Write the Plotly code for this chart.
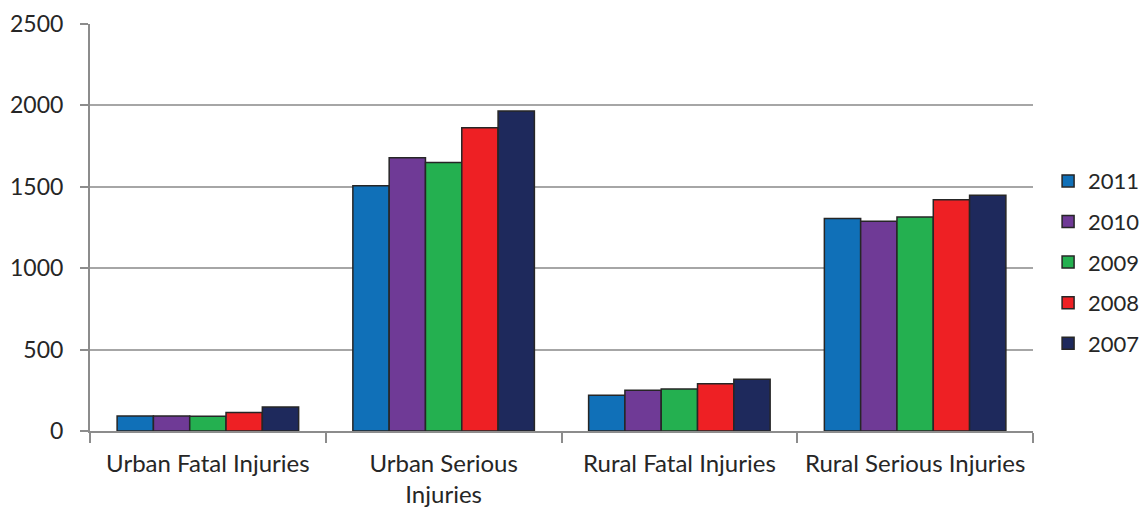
import plotly.graph_objects as go

categories = ["Urban Fatal Injuries", "Urban Serious<br>Injuries", "Rural Fatal Injuries", "Rural Serious Injuries"]
years = ["2011", "2010", "2009", "2008", "2007"]
v2011 = [92, 1507, 219, 1306]
v2010 = [92, 1679, 250, 1288]
v2009 = [90, 1650, 258, 1314]
v2008 = [113, 1863, 291, 1421]
v2007 = [147, 1966, 318, 1448]
colors = ["#1070b8", "#6f3a96", "#24b050", "#ee2024", "#1e295c"]

series = [v2011, v2010, v2009, v2008, v2007]
fig = go.Figure()
for name, vals, c in zip(years, series, colors):
    fig.add_trace(go.Bar(
        x=categories, y=vals, name=name, legendgroup=name,
        marker=dict(color=c, line=dict(color="#262626", width=1.5)),
    ))

font = "Lato, 'Open Sans', sans-serif"
fig.update_layout(
    width=1148, height=508,
    margin=dict(l=90, r=115, t=24, b=77, autoexpand=False),
    paper_bgcolor="white", plot_bgcolor="white",
    barmode="group", bargap=0.23, bargroupgap=0,
    font=dict(family=font, size=23, color="#262626"),
    legend=dict(x=1.016, xanchor="left", y=0.415, yanchor="middle",
                tracegroupgap=9, font=dict(size=22, color="#262626")),
    showlegend=True,
)
fig.update_xaxes(
    showline=True, linecolor="#8c8c8c", linewidth=2,
    ticks="outside", tickson="boundaries", ticklen=10, tickcolor="#8c8c8c", tickwidth=2,
    showgrid=False, tickfont=dict(size=24), tickangle=0,
    automargin=False, ticklabelstandoff=10,
)
fig.update_yaxes(
    range=[0, 2500], dtick=500,
    showline=True, linecolor="#8c8c8c", linewidth=2,
    ticks="outside", ticklen=8, tickcolor="#8c8c8c", tickwidth=2,
    showgrid=True, gridcolor="#a6a6a6", gridwidth=2,
    zeroline=False, tickfont=dict(size=23), automargin=False, ticklabelstandoff=12,
)
fig.write_html("out.html", config={"displayModeBar": False},
               post_script="document.body.style.margin='0';")
